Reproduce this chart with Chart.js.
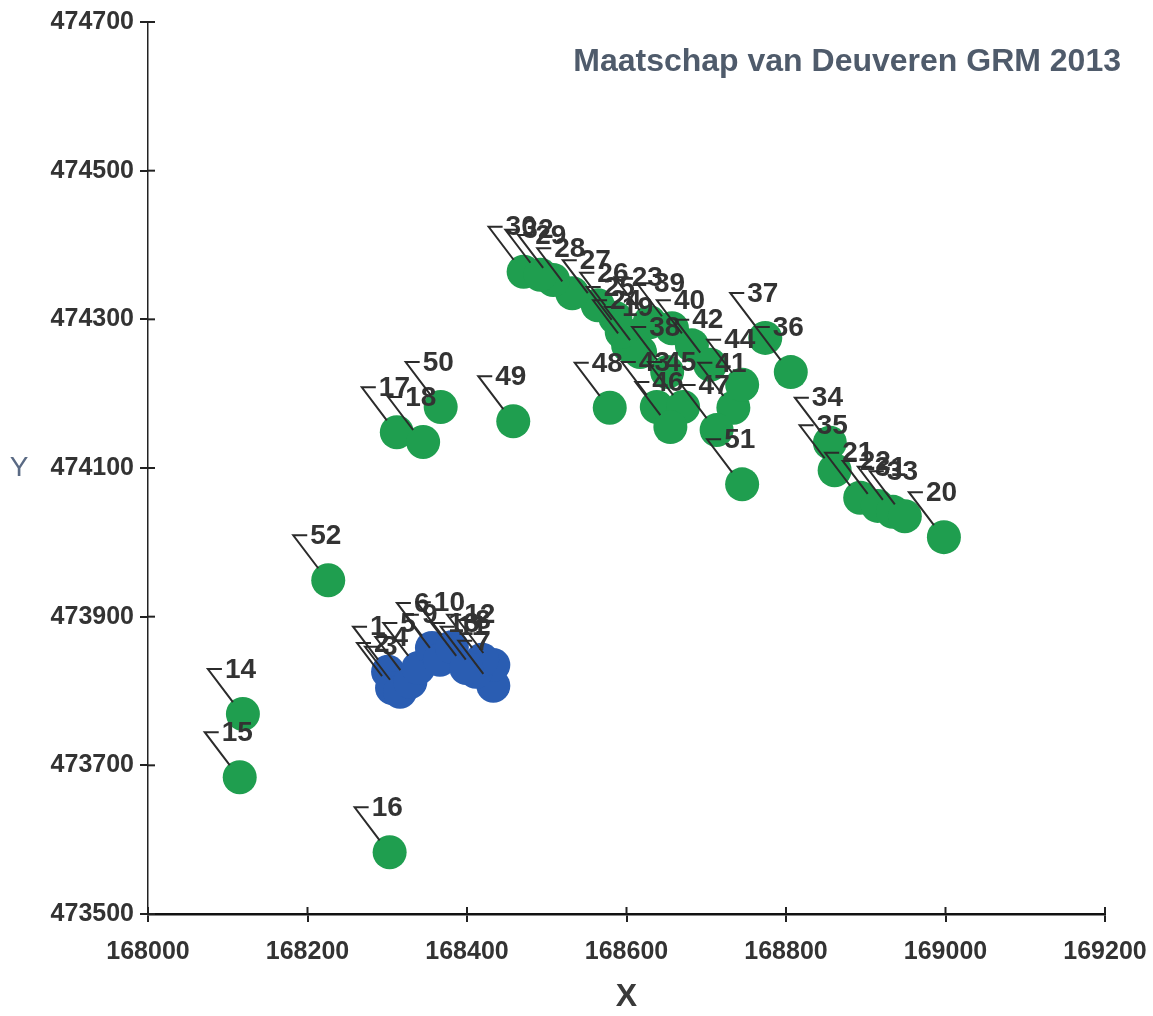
<!DOCTYPE html>
<html>
<head>
<meta charset="utf-8">
<title>Maatschap van Deuveren GRM 2013</title>
<script src="https://cdn.jsdelivr.net/npm/chart.js@4/dist/chart.umd.min.js"></script>
<style>
  html, body { margin: 0; padding: 0; background: #fff; }
  #wrap { width: 1153px; height: 1016px; }
</style>
</head>
<body>
<div id="wrap"><canvas id="gpsChart" width="1153" height="1016"></canvas></div>
<script>
// tick values
const xTicks = [168000, 168200, 168400, 168600, 168800, 169000, 169200];
const yTicks = [473500, 473700, 473900, 474100, 474300, 474500, 474700];

// blue points (1 - 13)
const blueIds = [1, 2, 3, 4, 5, 6, 7, 8, 9, 10, 11, 12, 13];
const blueX = [168301, 168306, 168316, 168329, 168339, 168356, 168433, 168433, 168366, 168381, 168411, 168419, 168399];
const blueY = [473826, 473804, 473799, 473812, 473831, 473858, 473807, 473835, 473842, 473859, 473826, 473842, 473831];

// green points (14 - 52)
const greenIds = [14, 15, 16, 17, 18, 19, 20, 21, 22, 23, 24, 25, 26, 27, 28, 29, 30, 31, 32, 33,
  34, 35, 36, 37, 38, 39, 40, 41, 42, 43, 44, 45, 46, 47, 48, 49, 50, 51, 52];
const greenX = [168119, 168115, 168303, 168312, 168345, 168617, 168998, 168893, 168915, 168629,
  168602, 168594, 168586, 168564, 168532, 168508, 168471, 168934, 168492, 168949,
  168855, 168861, 168806, 168774, 168651, 168657, 168682, 168734, 168705, 168638,
  168745, 168671, 168655, 168713, 168579, 168458, 168367, 168745, 168226];
const greenY = [473769, 473684, 473583, 474148, 474135, 474256, 474007, 474060, 474049, 474296,
  474265, 474283, 474302, 474319, 474335, 474353, 474364, 474041, 474360, 474035,
  474134, 474097, 474229, 474275, 474229, 474288, 474265, 474181, 474239, 474182,
  474212, 474182, 474155, 474151, 474181, 474163, 474182, 474078, 473949];

const toPoints = (xs, ys) => xs.map((x, i) => ({ x: x, y: ys[i] }));

// point labels with a small leader line, plus the free texts
const labelPlugin = {
  id: 'pointLabels',
  afterDatasetsDraw(chart) {
    const ctx = chart.ctx;
    ctx.save();
    ctx.strokeStyle = '#2b2b2b';
    ctx.lineWidth = 2;
    ctx.fillStyle = '#333333';
    ctx.font = 'bold 28px "Liberation Sans", Arial, sans-serif';
    ctx.textAlign = 'left';
    ctx.textBaseline = 'middle';
    chart.data.datasets.forEach((ds, d) => {
      const meta = chart.getDatasetMeta(d);
      meta.data.forEach((pt, i) => {
        const px = pt.x;
        const py = pt.y;
        ctx.beginPath();
        ctx.moveTo(px - 21, py - 45);
        ctx.lineTo(px - 35, py - 45);
        ctx.lineTo(px - 10, py - 12);
        ctx.stroke();
        ctx.fillText(String(ds.ids[i]), px - 18, py - 44);
      });
    });
    ctx.restore();
  },
  afterDraw(chart) {
    const ctx = chart.ctx;
    const area = chart.chartArea;
    const xs = chart.scales.x;
    const ys = chart.scales.y;
    ctx.save();
    // inner half of the tick marks
    ctx.strokeStyle = '#222';
    ctx.lineWidth = 2;
    xTicks.forEach(v => {
      const px = xs.getPixelForValue(v);
      ctx.beginPath();
      ctx.moveTo(px, area.bottom);
      ctx.lineTo(px, area.bottom - 7);
      ctx.stroke();
    });
    yTicks.forEach(v => {
      const py = ys.getPixelForValue(v);
      ctx.beginPath();
      ctx.moveTo(area.left, py);
      ctx.lineTo(area.left + 7, py);
      ctx.stroke();
    });

    ctx.textBaseline = 'middle';
    ctx.fillStyle = '#4f5b6b';
    ctx.font = 'bold 32px "Liberation Sans", Arial, sans-serif';
    ctx.textAlign = 'right';
    ctx.fillText('Maatschap van Deuveren GRM 2013', 1121, 62);

    ctx.textAlign = 'center';
    ctx.fillStyle = '#5a6a84';
    ctx.font = '28px "Liberation Sans", Arial, sans-serif';
    ctx.fillText('Y', 19, 468);

    ctx.fillStyle = '#3a3a3a';
    ctx.font = 'bold 32px "Liberation Sans", Arial, sans-serif';
    ctx.fillText('X', xs.getPixelForValue(168600), 997);
    ctx.restore();
  }
};

const tickFont = { family: '"Liberation Sans", Arial, sans-serif', size: 25, weight: 'bold' };

const config = {
  type: 'scatter',
  data: {
    datasets: [
      {
        label: 'groen',
        ids: greenIds,
        data: toPoints(greenX, greenY),
        backgroundColor: '#1f9e4f',
        borderWidth: 0,
        pointRadius: 17,
        pointHoverRadius: 17,
      },
      {
        label: 'blauw',
        ids: blueIds,
        data: toPoints(blueX, blueY),
        backgroundColor: '#2a5db2',
        borderWidth: 0,
        pointRadius: 17,
        pointHoverRadius: 17,
      },
    ],
  },
  options: {
    responsive: false,
    animation: false,
    layout: { padding: { top: 22, right: 48, left: 0, bottom: 0 } },
    plugins: {
      legend: { display: false },
      tooltip: { enabled: false },
      title: { display: false },
    },
    scales: {
      x: {
        type: 'linear',
        min: 168000,
        max: 169200,
        afterFit: scale => {
          scale.height = 102;
          scale.paddingLeft = 0;
          scale.paddingRight = 0;
        },
        afterBuildTicks: scale => { scale.ticks = xTicks.map(v => ({ value: v })); },
        border: { color: '#111', width: 2.5 },
        grid: { drawOnChartArea: false, tickLength: 8, color: '#222', lineWidth: 2 },
        ticks: {
          color: '#333',
          font: tickFont,
          padding: 15,
          maxRotation: 0,
          autoSkip: false,
          callback: v => String(v),
        },
      },
      y: {
        type: 'linear',
        min: 473500,
        max: 474700,
        afterFit: scale => { scale.width = 148; },
        afterBuildTicks: scale => { scale.ticks = yTicks.map(v => ({ value: v })); },
        border: { color: '#222', width: 1.5 },
        grid: { drawOnChartArea: false, tickLength: 8, color: '#222', lineWidth: 2 },
        ticks: {
          color: '#333',
          font: tickFont,
          padding: 6,
          autoSkip: false,
          callback: v => String(v),
        },
      },
    },
  },
  plugins: [labelPlugin],
};

const gpsChart = new Chart(document.getElementById('gpsChart'), config);
</script>
</body>
</html>
